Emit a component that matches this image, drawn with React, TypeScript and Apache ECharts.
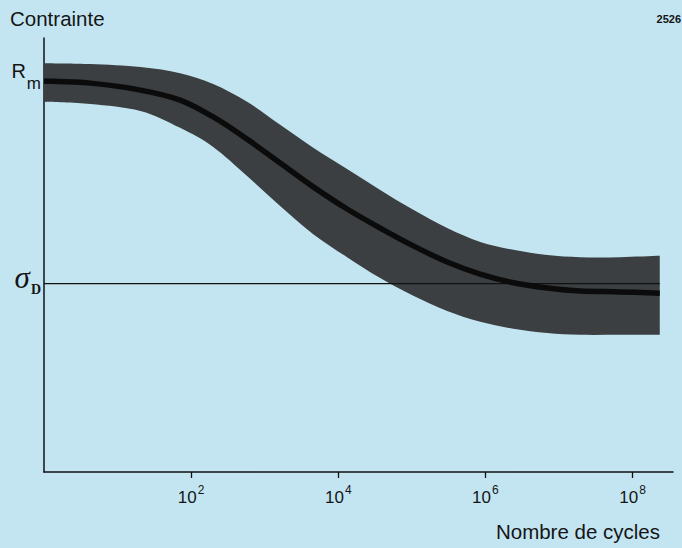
import React, { useEffect, useRef } from 'react';
import * as echarts from 'echarts';

// x = log10(number of cycles)
const xExp = [0, 0.63, 1.31, 1.85, 2.3, 2.76, 3.21, 3.66, 4.12, 4.57, 5.02, 5.48, 5.93, 6.38, 6.84, 7.29, 7.83, 8.37];
// stress (arbitrary units, 0..100)
const centerStress = [90.1, 89.6, 88.0, 85.7, 81.8, 76.7, 71.2, 65.7, 60.6, 56.2, 52.1, 48.4, 45.6, 43.6, 42.4, 41.7, 41.5, 41.2];
const upperStress = [94.2, 94.0, 93.3, 91.9, 89.4, 85.3, 80.0, 74.7, 69.8, 65.0, 60.4, 56.2, 53.0, 51.2, 50.0, 49.5, 49.5, 49.8];
const lowerStress = [85.3, 84.8, 83.2, 79.3, 74.9, 68.2, 61.3, 54.8, 49.5, 44.7, 40.6, 37.1, 34.6, 33.0, 32.0, 31.6, 31.6, 31.6];
const xTickExponents = [2, 4, 6, 8];
const rmValue = 90.1;
const sigmaDValue = 43.4;
const yAxisTitle = 'Contrainte';
const xAxisTitle = 'Nombre de cycles';
const figureNumber = '2526';

function crPath(pts: number[][], move: boolean): string {
  let d = (move ? 'M' : 'L') + pts[0][0] + ',' + pts[0][1];
  for (let i = 0; i < pts.length - 1; i++) {
    const p0 = pts[Math.max(i - 1, 0)];
    const p1 = pts[i];
    const p2 = pts[i + 1];
    const p3 = pts[Math.min(i + 2, pts.length - 1)];
    const c1 = [p1[0] + (p2[0] - p0[0]) / 6, p1[1] + (p2[1] - p0[1]) / 6];
    const c2 = [p2[0] - (p3[0] - p1[0]) / 6, p2[1] - (p3[1] - p1[1]) / 6];
    d += 'C' + c1[0] + ',' + c1[1] + ' ' + c2[0] + ',' + c2[1] + ' ' + p2[0] + ',' + p2[1];
  }
  return d;
}

const SANS = '"Liberation Sans", Arial, Helvetica, sans-serif';
const SERIF = '"Liberation Serif", "Times New Roman", serif';

export default function App() {
  const ref = useRef<HTMLDivElement>(null);
  useEffect(() => {
    if (!ref.current) return;
    const chart = echarts.init(ref.current, null, { renderer: 'svg' });
    chart.setOption({
      animation: false,
      backgroundColor: '#c3e5f2',
      grid: { left: 44, top: 38, width: 629, bottom: 76 },
      xAxis: {
        type: 'value',
        min: 0,
        max: 8.55,
        axisLine: { show: true, onZero: false, lineStyle: { color: '#111', width: 1.5 } },
        axisTick: { show: true, customValues: xTickExponents, length: 6, inside: false, lineStyle: { color: '#111', width: 1.3 } },
        axisLabel: {
          show: true,
          customValues: xTickExponents,
          margin: 12,
          formatter: (v: number) => '{b|10}{s|' + v + '}',
          rich: {
            b: { fontSize: 17, fontFamily: SANS, color: '#151515', padding: [5, 0, 0, 0], verticalAlign: 'top' },
            s: { fontSize: 12, fontFamily: SANS, color: '#151515', verticalAlign: 'top', padding: [0, 0, 0, 1] },
          },
        },
        splitLine: { show: false },
      },
      yAxis: {
        type: 'value',
        min: 0,
        max: 100,
        axisLine: { show: true, onZero: false, lineStyle: { color: '#111', width: 1.5 } },
        axisTick: { show: false },
        axisLabel: {
          show: true,
          customValues: [sigmaDValue, rmValue],
          margin: 3,
          formatter: (v: number) => (v === rmValue ? '{r|R}{m|m}' : '{sg|σ}{sd|D}'),
          rich: {
            r: { fontSize: 20, fontFamily: SANS, color: '#151515', verticalAlign: 'top' },
            m: { fontSize: 17, fontFamily: SANS, color: '#151515', verticalAlign: 'top', padding: [14, 0, 8, 1] },
            sg: { fontSize: 31, fontFamily: SERIF, fontStyle: 'italic', color: '#151515', verticalAlign: 'top' },
            sd: { fontSize: 14, fontFamily: SERIF, fontWeight: 'bold', color: '#151515', verticalAlign: 'top', padding: [21, 0, 9, 1] },
          },
        },
        splitLine: { show: false },
      },
      graphic: [
        { type: 'text', left: 10, top: 8, style: { text: yAxisTitle, font: '20.5px ' + SANS, fill: '#151515' } },
        { type: 'text', right: 1, top: 13, style: { text: figureNumber, font: 'bold 11px ' + SANS, fill: '#151515' } },
        { type: 'text', right: 22, top: 521, style: { text: xAxisTitle, font: '20.5px ' + SANS, fill: '#151515' } },
      ],
      series: [
        {
          type: 'custom',
          name: 'band',
          coordinateSystem: 'cartesian2d',
          data: [[0, 0]],
          z: 2,
          renderItem: (_params: any, api: any) => {
            const up = xExp.map((x, i) => api.coord([x, upperStress[i]]));
            const lo = xExp.map((x, i) => api.coord([x, lowerStress[i]])).reverse();
            const d = crPath(up, true) + crPath(lo, false) + 'Z';
            return { type: 'path', shape: { pathData: d }, style: { fill: '#3b3f41', stroke: null } };
          },
        },
        {
          type: 'line',
          name: 'sigmaD',
          data: [[0, sigmaDValue], [xExp[xExp.length - 1], sigmaDValue]],
          symbol: 'none',
          z: 3,
          lineStyle: { color: '#111', width: 1.3 },
        },
        {
          type: 'custom',
          name: 'center',
          coordinateSystem: 'cartesian2d',
          data: [[0, 0]],
          z: 4,
          renderItem: (_params: any, api: any) => {
            const pts = xExp.map((x, i) => api.coord([x, centerStress[i]]));
            return { type: 'path', shape: { pathData: crPath(pts, true) }, style: { fill: 'none', stroke: '#0b0b0b', lineWidth: 5.5 } };
          },
        },
      ],
    });
    return () => chart.dispose();
  }, []);
  return <div ref={ref} style={{ position: 'fixed', left: 0, top: 0, width: 682, height: 548 }} />;
}
